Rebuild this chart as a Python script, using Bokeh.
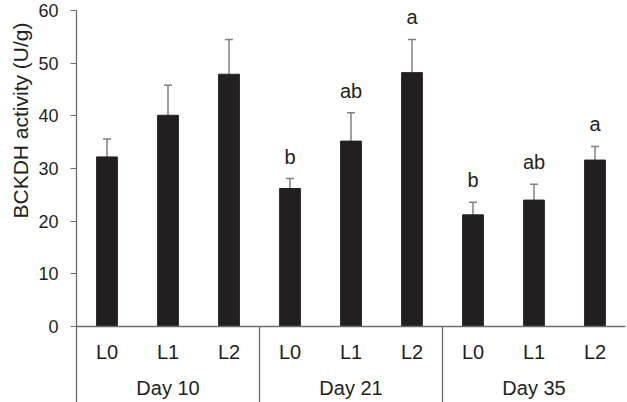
from bokeh.plotting import figure
from bokeh.models import FactorRange, Range1d, FixedTicker, Span, Whisker, TeeHead, ColumnDataSource, Title
from bokeh.core.properties import value
from bokeh.embed import file_html
from bokeh.resources import INLINE

# ---- data ----
days = ["Day 10", "Day 21", "Day 35"]
levels = ["L0", "L1", "L2"]
means = [32.2, 40.1, 47.9, 26.2, 35.2, 48.2, 21.2, 24.0, 31.6]
errors = [3.4, 5.7, 6.6, 1.9, 5.4, 6.3, 2.4, 3.0, 2.6]
letters = ["", "", "", "b", "ab", "a", "b", "ab", "a"]
y_ticks = [0, 10, 20, 30, 40, 50, 60]
y_title = "BCKDH activity (U/g)"

FONT = "Liberation Sans"
TXT = "#231f20"
BAR = "#231f20"
ERR = "#808080"
AX = "#6b6b6b"

factors = [(d, l) for d in days for l in levels]
upper = [m + e for m, e in zip(means, errors)]
src = ColumnDataSource(dict(x=factors, top=means, upper=upper, lower=means, letter=letters))

y_min = -14.43
p = figure(x_range=FactorRange(*factors, factor_padding=0, group_padding=0, range_padding=0),
           y_range=Range1d(y_min, 60),
           frame_width=549, frame_height=392,
           min_border_left=76, min_border_right=2, min_border_top=10, min_border_bottom=0,
           x_axis_location=None, output_backend="svg", toolbar_location=None)
p.outline_line_color = None
p.xgrid.visible = False
p.ygrid.visible = False
p.background_fill_color = "white"
p.border_fill_color = "white"

p.vbar(x="x", top="top", bottom=0, width=0.34, source=src, fill_color=BAR, line_color=BAR)

w = Whisker(base="x", upper="upper", lower="lower", source=src, dimension="height",
            line_color=ERR, line_width=1.5,
            upper_head=TeeHead(size=8, line_color=ERR, line_width=1.5), lower_head=None)
p.add_layout(w)

p.text(x="x", y="upper", text="letter", source=src, y_offset=-22,
       text_font=value(FONT), text_font_size="20px", text_color=TXT,
       text_align="center", text_baseline="middle")

# x-axis line at zero
p.add_layout(Span(location=0, dimension="width", line_color=AX, line_width=1.3))

# group separators and category labels below zero
n = len(levels)
sep_x = [k * n for k in range(1, len(days))]
p.segment(x0=sep_x, y0=[0] * len(sep_x), x1=sep_x, y1=[y_min] * len(sep_x), line_color=AX, line_width=1.3)

p.text(x=factors, y=[-4.75] * len(factors), text=[l for d in days for l in levels],
       text_font=value(FONT), text_font_size="20px", text_color=TXT,
       text_align="center", text_baseline="middle")
p.text(x=[(d, levels[1]) for d in days], y=[-11.75] * len(days), text=days,
       text_font=value(FONT), text_font_size="20px", text_color=TXT,
       text_align="center", text_baseline="middle")

ya = p.yaxis[0]
ya.ticker = FixedTicker(ticks=y_ticks)
ya.minor_tick_line_color = None
ya.major_tick_in = 0
ya.major_tick_out = 6
ya.major_tick_line_color = AX
ya.axis_line_color = AX
ya.axis_line_width = 1.3
ya.major_label_text_font = FONT
ya.major_label_text_font_size = "18px"
ya.major_label_text_color = TXT
ya.major_label_standoff = 12

t = Title(text=y_title, align="right", offset=12, standoff=8,
          text_font=FONT, text_font_size="21px", text_font_style="normal", text_color=TXT)
p.add_layout(t, "left")

open("out.html", "w").write(file_html(p, INLINE))
